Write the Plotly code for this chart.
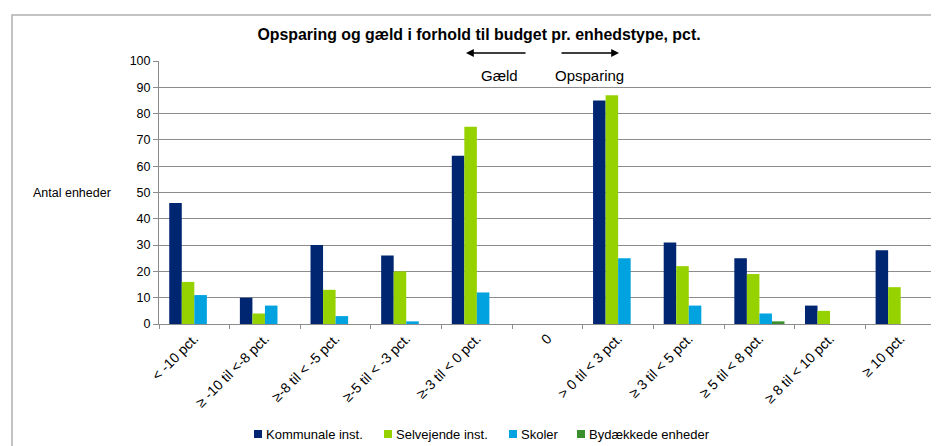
import plotly.graph_objects as go

categories = ["< -10 pct.", "≥ -10 til <-8 pct.", "≥-8 til < -5 pct.", "≥-5 til < -3 pct.",
              "≥-3 til < 0 pct.", "0", "> 0 til < 3 pct.", "≥ 3 til < 5 pct.",
              "≥ 5 til < 8 pct.", "≥ 8 til < 10 pct.", "≥ 10 pct."]
kommunale = [46, 10, 30, 26, 64, 0, 85, 31, 25, 7, 28]
selvejende = [16, 4, 13, 20, 75, 0, 87, 22, 19, 5, 14]
skoler = [11, 7, 3, 1, 12, 0, 25, 7, 4, 0, 0]
bydaekkede = [0, 0, 0, 0, 0, 0, 0, 0, 1, 0, 0]
y_ticks = list(range(0, 101, 10))

series_names = ["Kommunale inst.", "Selvejende inst.", "Skoler", "Bydækkede enheder"]
series_values = [kommunale, selvejende, skoler, bydaekkede]
series_colors = ["#002672", "#96D200", "#00A3E0", "#3A8E2E"]

fig = go.Figure()
for name, vals, col in zip(series_names, series_values, series_colors):
    fig.add_trace(go.Bar(x=categories, y=vals, name=name, marker_color=col,
                         marker_line_width=0, showlegend=False))

W, H = 939, 446
OX, OY = 7, 7  # page offset of the figure in the screenshot
# plot area in screen pixels: x 158..935, y 60..323
L = 158 - OX
R = W - (935 - OX)
T = 60 - OY
B = H - (323 - OY)
pw = W - L - R
ph = H - T - B

def px(sx):
    return (sx - OX - L) / pw

def py(sy):
    return (H - B - (sy - OY)) / ph

font = "Liberation Sans, Arial, sans-serif"

fig.update_layout(
    width=W, height=H,
    margin=dict(l=L, r=R, t=T, b=B, autoexpand=False),
    paper_bgcolor="white", plot_bgcolor="white",
    barmode="group", bargap=0.29, bargroupgap=0,
    font=dict(family=font, size=12, color="black"),
    showlegend=False,
    title=dict(text="<b>Opsparing og gæld i forhold til budget pr. enhedstype, pct.</b>",
               x=(478 - OX) / W, xanchor="center", y=1 - (33 - OY) / H, yanchor="middle",
               font=dict(size=15.9, family=font)),
)

fig.update_xaxes(type="category", tickangle=-45, showline=True, linecolor="#8c8c8c",
                 linewidth=1, ticks="outside", tickson="boundaries", ticklen=4,
                 tickcolor="#8c8c8c", showgrid=False, tickfont=dict(size=14),
                 automargin=False)
fig.update_yaxes(range=[0, 100], tickvals=y_ticks, showline=True, linecolor="#8c8c8c",
                 linewidth=1, ticks="outside", ticklen=5, tickcolor="#8c8c8c",
                 showgrid=True, gridcolor="#8c8c8c", gridwidth=1, zeroline=False,
                 tickfont=dict(size=12.5), automargin=False)

# y-axis title (horizontal)
fig.add_annotation(text="Antal enheder", xref="paper", yref="paper", x=px(71), y=py(192),
                   showarrow=False, xanchor="center", yanchor="middle", font=dict(size=12.5))

# arrows
fig.add_annotation(xref="paper", yref="paper", x=px(465), y=py(52), ax=61, ay=0,
                   text="", showarrow=True, arrowhead=2,
                   arrowsize=1.2, arrowwidth=1.3, arrowcolor="black")
fig.add_annotation(xref="paper", yref="paper", x=px(618), y=py(52), ax=-59, ay=0,
                   text="", showarrow=True, arrowhead=2,
                   arrowsize=1.2, arrowwidth=1.3, arrowcolor="black")
fig.add_annotation(text="Gæld", xref="paper", yref="paper", x=px(498), y=py(74),
                   showarrow=False, xanchor="center", yanchor="middle", font=dict(size=15))
fig.add_annotation(text="Opsparing", xref="paper", yref="paper", x=px(588), y=py(74),
                   showarrow=False, xanchor="center", yanchor="middle", font=dict(size=15))

# legend (manual, matching reference placement)
legend_x = [253, 383, 508, 576]
for name, col, sx in zip(series_names, series_colors, legend_x):
    fig.add_shape(type="rect", xref="paper", yref="paper", x0=px(sx), x1=px(sx + 8),
                  y0=py(437), y1=py(429), fillcolor=col, line=dict(width=0))
    fig.add_annotation(text=name, xref="paper", yref="paper", x=px(sx + 10), y=py(433),
                       showarrow=False, xanchor="left", yanchor="middle",
                       font=dict(size=13))

# outer border
fig.add_shape(type="rect", xref="paper", yref="paper", x0=px(11), y0=py(470), x1=px(970),
              y1=py(14), line=dict(color="#b0b0b0", width=1.5), layer="below")

fig.write_html("out.html")
